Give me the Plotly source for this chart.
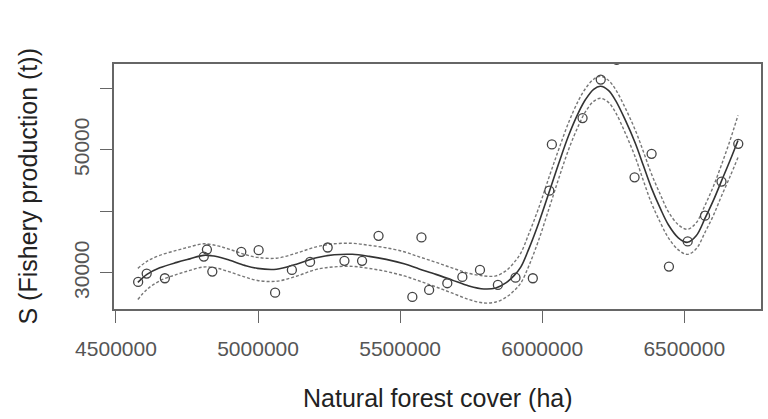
import plotly.graph_objects as go

# Observed data points
forest_cover = [4578000, 4608000, 4672000, 4809000, 4820000, 4839000, 4941000, 5002000,
                5060000, 5119000, 5183000, 5245000, 5304000, 5366000, 5424000, 5543000,
                5575000, 5602000, 5666000, 5719000, 5781000, 5844000, 5906000, 5967000,
                6025000, 6034000, 6142000, 6206000, 6262000, 6325000, 6385000, 6446000,
                6512000, 6573000, 6631000, 6690000]
fishery = [28530, 29890, 29130, 32660, 33800, 30220, 33420, 33700,
           26790, 30490, 31790, 34130, 31960, 31960, 36030, 26090,
           35760, 27230, 28320, 29350, 30490, 28040, 29230, 29130,
           43370, 50880, 55170, 61430, 64650, 45540, 49360, 31030,
           35110, 39300, 44840, 50990]

# Fitted smooth and confidence band
fit_x = [4577000, 4609000, 4654000, 4714000, 4760000, 4809000, 4858000, 4900000,
         4953000, 4998000, 5065000, 5135000, 5205000, 5268000, 5332000, 5391000,
         5451000, 5514000, 5567000, 5626000, 5682000, 5742000, 5795000, 5837000,
         5872000, 5900000, 5925000, 5953000, 5988000, 6026000, 6058000, 6093000,
         6128000, 6153000, 6181000, 6205000, 6233000, 6258000, 6293000, 6328000,
         6356000, 6384000, 6416000, 6444000, 6479000, 6511000, 6542000, 6574000,
         6602000, 6630000, 6661000, 6689000]
fit_y = [28450, 29760, 30820, 31710, 32280, 32850, 32610, 32040,
         31220, 30730, 30600, 31420, 32450, 32940, 33020, 32690,
         32200, 31470, 30650, 29760, 28860, 27880, 27390, 27550,
         28370, 29510, 30980, 33910, 38160, 43370, 47780, 52340,
         56100, 58220, 59850, 60340, 59680, 58050, 54790, 51040,
         47450, 43860, 40440, 37830, 35710, 34970, 36030, 38970,
         41740, 44840, 48270, 51530]
upper_y = [30730, 31880, 32860, 33670, 34240, 34730, 34400, 33830,
           33010, 32520, 32390, 33210, 34240, 34730, 34810, 34480,
           34080, 33430, 32610, 31720, 30820, 29920, 29510, 29510,
           30330, 31630, 33260, 36360, 40610, 45820, 50060, 54460,
           58060, 60010, 61480, 61970, 61310, 59840, 56750, 53160,
           49730, 46140, 42720, 39950, 37830, 37090, 38150, 41090,
           44020, 47450, 51530, 55610]
lower_y = [25680, 27310, 28700, 29750, 30400, 30970, 30730, 30160,
           29340, 28770, 28640, 29460, 30570, 30980, 31060, 30730,
           30240, 29510, 28690, 27720, 26740, 25680, 25110, 25270,
           26010, 27060, 28370, 31140, 35390, 40760, 45330, 50060,
           53980, 56260, 57890, 58380, 57720, 56090, 52670, 48760,
           45000, 41410, 38160, 35710, 33750, 33010, 33910, 36690,
           39290, 42390, 45660, 48760]

x_ticks = [4500000, 5000000, 5500000, 6000000, 6500000]
x_tick_text = ["4500000", "5000000", "5500000", "6000000", "6500000"]
y_ticks = [30000, 40000, 50000, 60000]
y_tick_text = ["30000", "", "50000", ""]

FONT = "Liberation Sans, Arial, sans-serif"

fig = go.Figure()
for band in (upper_y, lower_y):
    fig.add_trace(go.Scatter(
        x=fit_x, y=band, mode="lines",
        line=dict(color="#777777", width=1.4, dash="3px,2px", shape="spline", smoothing=1.0),
        hoverinfo="skip", showlegend=False))
fig.add_trace(go.Scatter(
    x=fit_x, y=fit_y, mode="lines",
    line=dict(color="#333333", width=1.6, shape="spline", smoothing=1.0),
    showlegend=False))
fig.add_trace(go.Scatter(
    x=forest_cover, y=fishery, mode="markers",
    marker=dict(symbol="circle-open", size=9, color="#444444", line=dict(width=1.3)),
    showlegend=False, cliponaxis=True))

fig.update_layout(
    width=768, height=419,
    margin=dict(l=114, r=5, t=64, b=110),
    paper_bgcolor="white", plot_bgcolor="white",
    font=dict(family=FONT, color="#555555"),
    xaxis=dict(range=[4493000, 6770000], tickvals=x_ticks, ticktext=x_tick_text,
               showgrid=False, zeroline=False, showline=True, mirror=True,
               linecolor="#666666", linewidth=1.6, ticks="outside", ticklen=12,
               tickcolor="#666666", tickwidth=1.3, ticklabelstandoff=8,
               tickfont=dict(size=21, color="#555555", family=FONT)),
    yaxis=dict(range=[24130, 63960], tickvals=y_ticks, ticktext=y_tick_text,
               showgrid=False, zeroline=False, showline=True, mirror=True,
               linecolor="#666666", linewidth=1.6, ticks="outside", ticklen=12,
               tickcolor="#666666", tickwidth=1.3, tickangle=-90,
               ticklabelstandoff=3,
               tickfont=dict(size=21, color="#555555", family=FONT)),
    annotations=[
        dict(text="Natural forest cover (ha)", xref="paper", yref="paper",
             x=0.5, y=0, yshift=-89, xanchor="center", yanchor="middle",
             showarrow=False, font=dict(size=25, color="#222222", family=FONT)),
        dict(text="S (Fishery production (t))", xref="paper", yref="paper",
             x=0, y=0.5, xshift=-87, xanchor="center", yanchor="middle", textangle=-90,
             showarrow=False, font=dict(size=25, color="#222222", family=FONT)),
    ],
)

fig.write_html("out.html")
